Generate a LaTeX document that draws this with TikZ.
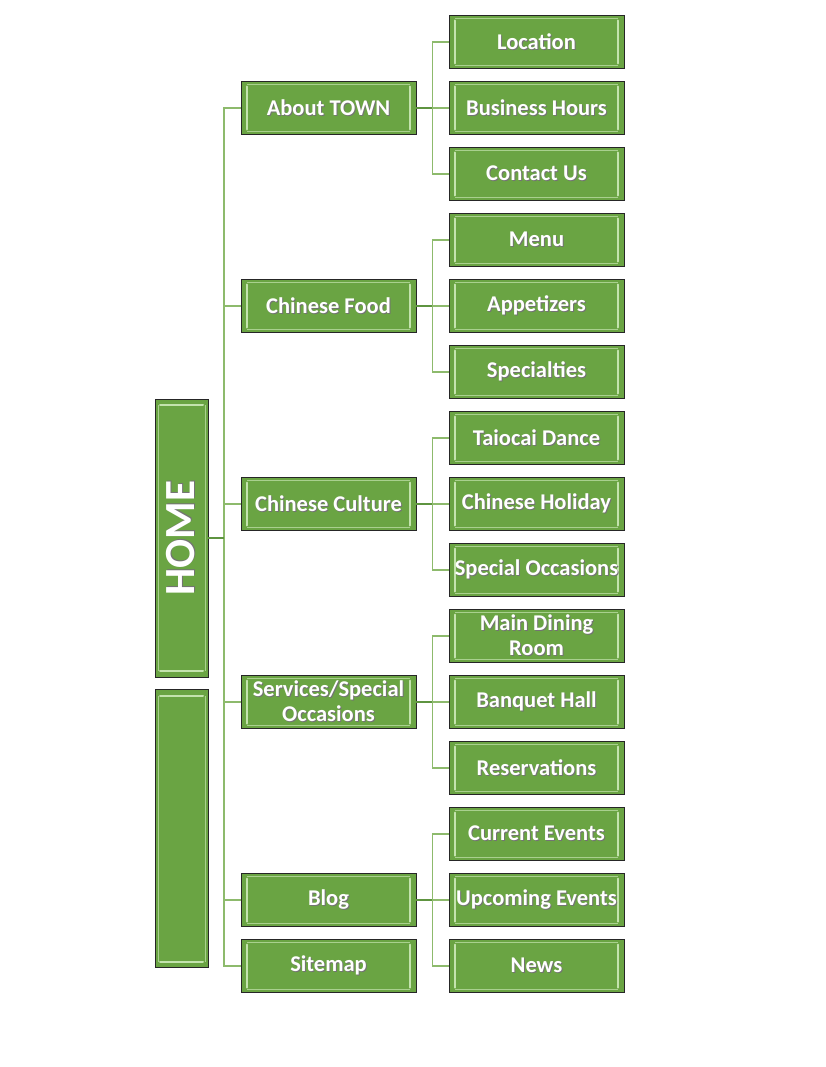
\documentclass[tikz,border=0pt]{standalone}
\usepackage{fontspec}
\newfontfamily\cf{Carlito}
\definecolor{boxg}{HTML}{6AA443}
\definecolor{hlg}{HTML}{C4E3AE}
\definecolor{ldark}{HTML}{5E9440}
\definecolor{llight}{HTML}{8DBA6C}
\newcommand{\shd}[1]{\leavevmode\rlap{\kern1pt\raisebox{-1pt}{\textcolor{black!55}{#1}}}#1}
\tikzset{
  box/.style={draw=black!85, line width=0.9pt, fill=boxg, minimum width=175pt, minimum height=53pt,
    inner sep=0pt, text=white, align=center, font=\cf\bfseries\fontsize{22.5}{25}\selectfont,
    path picture={
      \draw[hlg, line width=2pt, line cap=round]
        ([xshift=6pt,yshift=-5pt]path picture bounding box.north west) -- ([xshift=6pt,yshift=5pt]path picture bounding box.south west);
      \draw[hlg, line width=2pt, line cap=round]
        ([xshift=-6pt,yshift=-5pt]path picture bounding box.north east) -- ([xshift=-6pt,yshift=5pt]path picture bounding box.south east);
      \draw[hlg!70!boxg, line width=0.8pt]
        ([xshift=6pt,yshift=-3pt]path picture bounding box.north west) -- ([xshift=-6pt,yshift=-3pt]path picture bounding box.north east);
      \draw[hlg!70!boxg, line width=0.8pt]
        ([xshift=6pt,yshift=3pt]path picture bounding box.south west) -- ([xshift=-6pt,yshift=3pt]path picture bounding box.south east);
    }},
  vbox/.style={draw=black!85, line width=0.9pt, fill=boxg, minimum width=53pt, minimum height=278pt,
    inner sep=0pt, text=white,
    path picture={
      \draw[hlg, line width=2pt, line cap=round]
        ([xshift=5pt,yshift=-6pt]path picture bounding box.north west) -- ([xshift=-5pt,yshift=-6pt]path picture bounding box.north east);
      \draw[hlg, line width=2pt, line cap=round]
        ([xshift=5pt,yshift=6pt]path picture bounding box.south west) -- ([xshift=-5pt,yshift=6pt]path picture bounding box.south east);
      \draw[hlg!70!boxg, line width=0.8pt]
        ([xshift=3pt,yshift=-6pt]path picture bounding box.north west) -- ([xshift=3pt,yshift=6pt]path picture bounding box.south west);
      \draw[hlg!70!boxg, line width=0.8pt]
        ([xshift=-3pt,yshift=-6pt]path picture bounding box.north east) -- ([xshift=-3pt,yshift=6pt]path picture bounding box.south east);
    }},
  dk/.style={draw=ldark, line width=2.6pt},
  lt/.style={draw=llight, line width=1.8pt}
}
\begin{document}
\begin{tikzpicture}
\useasboundingbox (0pt,0pt) rectangle (825pt,-1067pt);
% root
\node[vbox] (home) at (181.5pt,-538pt) {};
\node[rotate=90, text=white, font=\cf\bfseries\fontsize{43}{43}\selectfont] (homet) at (181.5pt,-538pt) {\shd{HOME}};
\node[vbox] (home2) at (181.5pt,-828.5pt) {};
% level 1
\node[box] (a) at (328.5pt,-108pt) {\shd{About TOWN}};
\node[box] (b) at (328.5pt,-306pt) {\shd{Chinese Food}};
\node[box] (c) at (328.5pt,-504pt) {\shd{Chinese Culture}};
\node[box] (d) at (328.5pt,-702pt) {\shd{Services/Special}\\\shd{Occasions}};
\node[box] (e) at (328.5pt,-900pt) {\shd{Blog}};
\node[box] (f) at (328.5pt,-966pt) {\shd{Sitemap}};
% level 2
\node[box] (a1) at (536.5pt,-42pt) {\shd{Location}};
\node[box] (a2) at (536.5pt,-108pt) {\shd{Business Hours}};
\node[box] (a3) at (536.5pt,-174pt) {\shd{Contact Us}};
\node[box] (b1) at (536.5pt,-240pt) {\shd{Menu}};
\node[box] (b2) at (536.5pt,-306pt) {\shd{Appetizers}};
\node[box] (b3) at (536.5pt,-372pt) {\shd{Specialties}};
\node[box] (c1) at (536.5pt,-438pt) {\shd{Taiocai Dance}};
\node[box] (c2) at (536.5pt,-504pt) {\shd{Chinese Holiday}};
\node[box] (c3) at (536.5pt,-570pt) {\shd{Special Occasions}};
\node[box] (d1) at (536.5pt,-636pt) {\shd{Main Dining}\\\shd{Room}};
\node[box] (d2) at (536.5pt,-702pt) {\shd{Banquet Hall}};
\node[box] (d3) at (536.5pt,-768pt) {\shd{Reservations}};
\node[box] (e1) at (536.5pt,-834pt) {\shd{Current Events}};
\node[box] (e2) at (536.5pt,-900pt) {\shd{Upcoming Events}};
\node[box] (e3) at (536.5pt,-966pt) {\shd{News}};
% connectors root
\coordinate (t) at (224pt,-538pt);
\foreach \n in {a,b,c,d,e,f}{
  \draw[lt] (t) |- (\n.west);
}
\draw[dk] (home.east) -- (t);
% connectors level 1 -> 2
\foreach \p in {a,b,c,d,e}{
  \coordinate (j\p) at ([xshift=16pt]\p.east);
  \foreach \k in {1,2,3}{
    \draw[lt] (j\p) |- (\p\k.west);
  }
  \draw[dk] (\p.east) -- (j\p);
}
\end{tikzpicture}
\end{document}
